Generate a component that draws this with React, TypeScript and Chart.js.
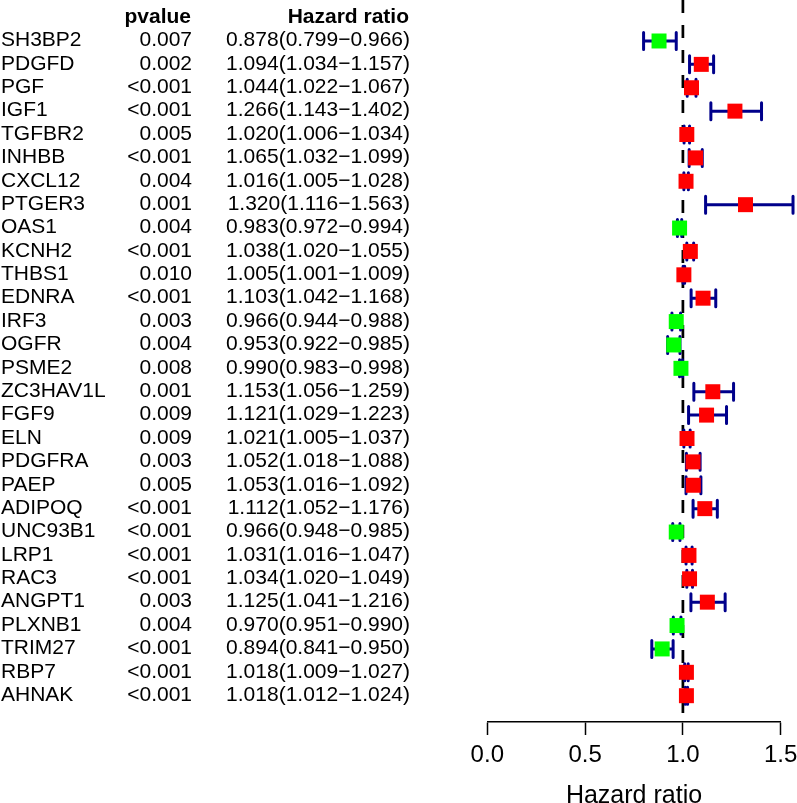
import React, { useEffect, useRef } from "react";
import { Chart, registerables } from "chart.js";

Chart.register(...registerables);

const genes = ["SH3BP2", "PDGFD", "PGF", "IGF1", "TGFBR2", "INHBB", "CXCL12", "PTGER3", "OAS1", "KCNH2", "THBS1", "EDNRA", "IRF3", "OGFR", "PSME2", "ZC3HAV1L", "FGF9", "ELN", "PDGFRA", "PAEP", "ADIPOQ", "UNC93B1", "LRP1", "RAC3", "ANGPT1", "PLXNB1", "TRIM27", "RBP7", "AHNAK"];
const pvalues = ["0.007", "0.002", "<0.001", "<0.001", "0.005", "<0.001", "0.004", "0.001", "0.004", "<0.001", "0.010", "<0.001", "0.003", "0.004", "0.008", "0.001", "0.009", "0.009", "0.003", "0.005", "<0.001", "<0.001", "<0.001", "<0.001", "0.003", "0.004", "<0.001", "<0.001", "<0.001"];
const hr = [0.878, 1.094, 1.044, 1.266, 1.020, 1.065, 1.016, 1.320, 0.983, 1.038, 1.005, 1.103, 0.966, 0.953, 0.990, 1.153, 1.121, 1.021, 1.052, 1.053, 1.112, 0.966, 1.031, 1.034, 1.125, 0.970, 0.894, 1.018, 1.018];
const hrLow = [0.799, 1.034, 1.022, 1.143, 1.006, 1.032, 1.005, 1.116, 0.972, 1.020, 1.001, 1.042, 0.944, 0.922, 0.983, 1.056, 1.029, 1.005, 1.018, 1.016, 1.052, 0.948, 1.016, 1.020, 1.041, 0.951, 0.841, 1.009, 1.012];
const hrHigh = [0.966, 1.157, 1.067, 1.402, 1.034, 1.099, 1.028, 1.563, 0.994, 1.055, 1.009, 1.168, 0.988, 0.985, 0.998, 1.259, 1.223, 1.037, 1.088, 1.092, 1.176, 0.985, 1.047, 1.049, 1.216, 0.990, 0.950, 1.027, 1.024];
const xTicks = [0, 0.5, 1.0, 1.5];
const headers = ["pvalue", "Hazard ratio"];
const axisTitle = "Hazard ratio";

const FONT = '"Liberation Sans", Arial, Helvetica, sans-serif';

export default function App() {
  const ref = useRef<HTMLCanvasElement | null>(null);

  useEffect(() => {
    if (!ref.current) return;
    const n = genes.length;
    const yMin = -1.753;
    const yMax = n + 0.125;

    const forestPlugin = {
      id: "forest",
      beforeDatasetsDraw(chart: any) {
        const { ctx, scales } = chart;
        const xs = scales.x;
        const ys = scales.y;
        ctx.save();
        // reference dashed line
        const x1 = xs.getPixelForValue(1);
        ctx.strokeStyle = "#000000";
        ctx.lineWidth = 2.7;
        ctx.setLineDash([13, 12]);
        ctx.lineCap = "butt";
        ctx.beginPath();
        ctx.moveTo(x1, ys.getPixelForValue(yMin));
        ctx.lineTo(x1, ys.getPixelForValue(yMax));
        ctx.stroke();
        ctx.setLineDash([]);
        // error bars
        ctx.strokeStyle = "#00008B";
        ctx.lineWidth = 3;
        ctx.lineCap = "round";
        for (let i = 0; i < n; i++) {
          const y = ys.getPixelForValue(i);
          const xl = xs.getPixelForValue(hrLow[i]);
          const xh = xs.getPixelForValue(hrHigh[i]);
          ctx.beginPath();
          ctx.moveTo(xl, y);
          ctx.lineTo(xh, y);
          ctx.moveTo(xl, y - 8.5);
          ctx.lineTo(xl, y + 8.5);
          ctx.moveTo(xh, y - 8.5);
          ctx.lineTo(xh, y + 8.5);
          ctx.stroke();
        }
        ctx.restore();
      },
      afterDraw(chart: any) {
        const { ctx, scales } = chart;
        const ys = scales.y;
        ctx.save();
        ctx.fillStyle = "#000000";
        ctx.textBaseline = "alphabetic";
        const hy = ys.getPixelForValue(-1) + 5.5;
        ctx.font = `bold 21px ${FONT}`;
        ctx.textAlign = "right";
        ctx.fillText(headers[0], 191, hy);
        ctx.fillText(headers[1], 409, hy);
        ctx.font = `21px ${FONT}`;
        for (let i = 0; i < n; i++) {
          const y = ys.getPixelForValue(i) + 5.3;
          ctx.textAlign = "left";
          ctx.fillText(genes[i], 1, y);
          ctx.textAlign = "right";
          ctx.fillText(pvalues[i], 192, y);
          const txt = `${hr[i].toFixed(3)}(${hrLow[i].toFixed(3)}\u2212${hrHigh[i].toFixed(3)})`;
          ctx.fillText(txt, 410, y);
        }
        ctx.restore();
      },
    };

    const chart = new Chart(ref.current, {
      type: "scatter",
      data: {
        datasets: [
          {
            data: hr.map((v, i) => ({ x: v, y: i })),
            pointStyle: "rect",
            pointRadius: 10.6,
            pointHoverRadius: 10.6,
            pointBorderWidth: 0,
            pointBackgroundColor: hr.map((v) => (v > 1 ? "#FF0000" : "#00FF00")),
            pointBorderColor: hr.map((v) => (v > 1 ? "#FF0000" : "#00FF00")),
            clip: false,
          } as any,
        ],
      },
      options: {
        responsive: false,
        devicePixelRatio: 1,
        animation: false,
        layout: { autoPadding: false, padding: { left: 487.3, right: 16.3, top: 0, bottom: 0 } },
        plugins: { legend: { display: false }, tooltip: { enabled: false } },
        scales: {
          x: {
            type: "linear",
            min: 0,
            max: 1.5,
            afterBuildTicks: (scale: any) => {
              scale.ticks = xTicks.map((v) => ({ value: v }));
            },
            afterFit: (scale: any) => {
              scale.paddingLeft = 0;
              scale.paddingRight = 0;
            },
            ticks: {
              callback: (v: any) => Number(v).toFixed(1),
              font: { size: 24, family: FONT, lineHeight: 22 / 24 },
              color: "#000000",
              padding: 9,
              maxRotation: 0,
            },
            grid: {
              display: true,
              drawOnChartArea: false,
              drawTicks: true,
              tickLength: 13,
              tickWidth: 1.5,
              tickColor: "#000000",
            },
            border: { display: true, color: "#000000", width: 1.5 },
            title: {
              display: true,
              text: axisTitle,
              color: "#000000",
              font: { size: 25, family: FONT, lineHeight: 14 / 25 },
              padding: { top: 14, bottom: 0 },
            },
          },
          y: {
            type: "linear",
            display: false,
            reverse: true,
            min: yMin,
            max: yMax,
          },
        },
      } as any,
      plugins: [forestPlugin],
    });
    return () => chart.destroy();
  }, []);

  return (
    <div style={{ position: "absolute", left: 0, top: 0, width: 797, height: 803, background: "#ffffff" }}>
      <canvas ref={ref} width={797} height={803} style={{ display: "block", width: 797, height: 803 }} />
    </div>
  );
}
